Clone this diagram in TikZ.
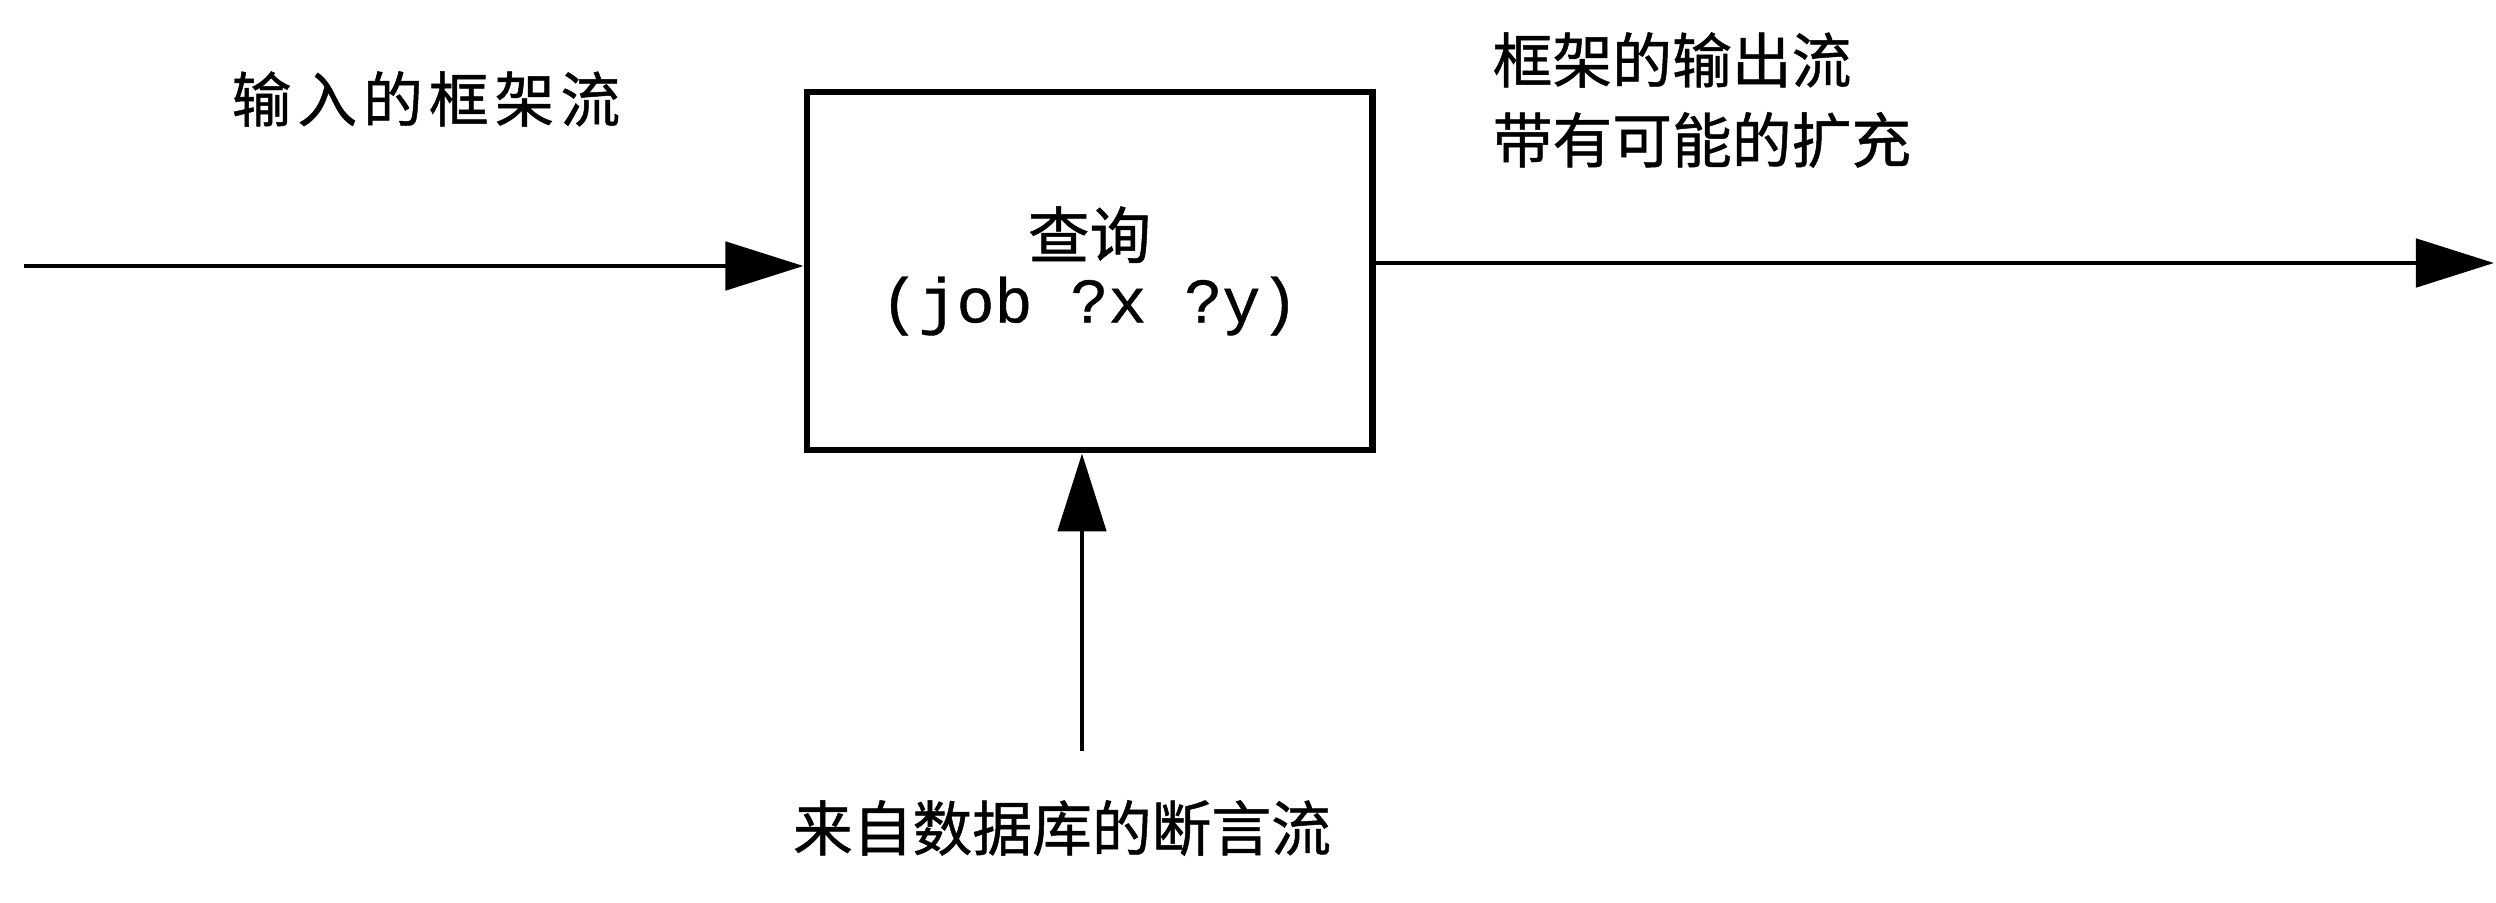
\documentclass[tikz,border=0pt]{standalone}
\usepackage{fontspec}
\setmainfont{Noto Sans CJK SC}
\newfontfamily\cjk[FakeBold=0.8]{Noto Sans CJK SC}
\newfontfamily\cjkwide[FakeBold=0.8,LetterSpace=10]{Noto Sans CJK SC}
\newfontfamily\codefont[FakeBold=0.6]{Liberation Mono}
\usetikzlibrary{arrows.meta}
\tikzset{
  arr/.style={line width=1.4pt,-{Triangle[length=0.78cm,width=0.48cm]}},
  qbox/.style={draw,line width=1.9pt,minimum width=5.65cm,minimum height=3.58cm,inner sep=0pt,align=center},
  lbl/.style={inner sep=0pt,font=\cjk\fontsize{17}{22.7}\selectfont}
}
\begin{document}
\begin{tikzpicture}[x=0.01cm,y=-0.01cm]
\useasboundingbox (0,0) rectangle (2496,903);
\node[qbox] (box) at (1089.5,271) {{\cjk\fontsize{17.5}{20}\selectfont 查询}\\[0.1cm]{\codefont\fontsize{18}{20}\selectfont (job ?x ?y)}};
\coordinate (inL) at (24,266);
\coordinate (outR) at (2494,263);
\coordinate (dbB) at (1082,751);
\node[lbl,anchor=west,font=\cjkwide\fontsize{17}{22.7}\selectfont] (inlbl) at (231,99) {输入的框架流};
\node[lbl,anchor=west,align=left] (outlbl) at (1492,100) {框架的输出流\\带有可能的扩充};
\node[lbl] (dblbl) at (1062,828) {来自数据库的断言流};
\draw[arr] (inL) -- (inL -| box.west);
\draw[arr] (box.east |- outR) -- (outR);
\draw[arr] (dbB) -- (dbB |- box.south);
\end{tikzpicture}
\end{document}
